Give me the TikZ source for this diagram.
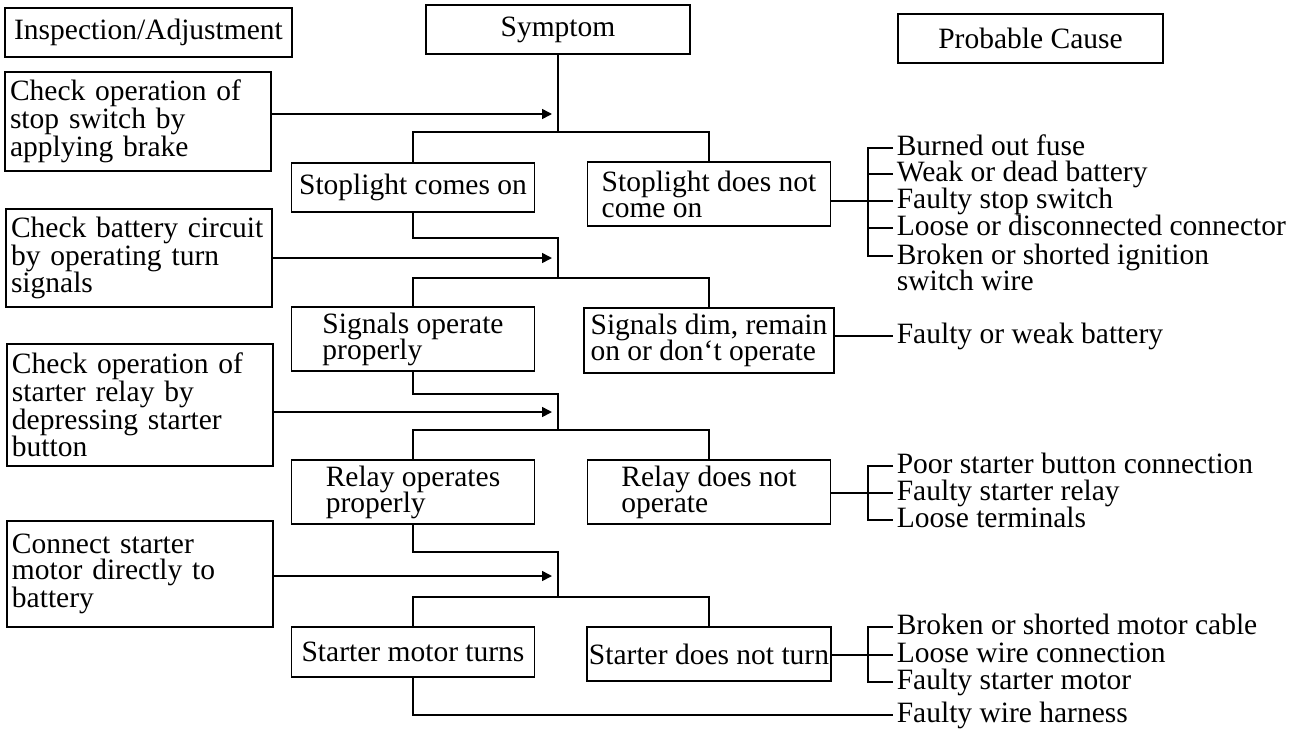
\documentclass[tikz,border=0pt]{standalone}
\usepackage{fontspec}
\setmainfont{Liberation Serif}
\usetikzlibrary{arrows.meta}
\setlength{\lineskiplimit}{-20pt}

\begin{document}
\begin{tikzpicture}[x=1pt,y=-1pt,line width=1.6pt,
    font=\fontsize{29.5}{26}\selectfont]
    \tikzstyle{box}=[draw,inner sep=0pt,align=left]
    \tikzstyle{chk}=[box,inner xsep=5pt,text width=256pt]
    \tikzstyle{sbox}=[box,minimum width=243pt]
    \tikzstyle{cause}=[anchor=base west,inner xsep=3pt,inner ysep=0pt,
        align=left,text height=20pt,text depth=6pt]
    \tikzstyle{arr}=[-{Triangle[length=10pt,width=10pt]}]
    \useasboundingbox (0,0) rectangle (1298,729);
    % Headers
    \node[box,minimum width=287pt,minimum height=49pt] (insp) at (148.5,32.5) {Inspection/Adjustment};
    \node[box,minimum width=264pt,minimum height=49pt] (sym) at (558,29.5) {Symptom};
    \node[box,minimum width=265pt,minimum height=49pt] (prob) at (1030.5,38.5) {Probable Cause};
    % Checks
    \node[chk,minimum height=99pt] (chk1) at (138,121.5) {Check operation of\\stop switch by\\applying brake};
    \node[chk,minimum height=98pt] (chk2) at (139,258) {Check battery circuit\\by operating turn\\signals};
    \node[chk,minimum height=122pt] (chk3) at (140,405) {Check operation of\\starter relay by\\depressing starter\\button};
    \node[chk,minimum height=106pt] (chk4) at (140,574) {Connect starter\\motor directly to\\battery};
    % Symptoms
    \node[sbox,minimum height=49pt] (s1) at (413,187.5) {Stoplight comes on};
    \node[sbox,minimum height=64pt] (s2) at (413,339) {Signals operate\\properly};
    \node[sbox,minimum height=64pt] (s3) at (413,492) {Relay operates\\properly};
    \node[sbox,minimum height=50pt] (s4) at (413,652) {Starter motor turns};
    \node[sbox,minimum height=64pt] (n1) at (709,194) {Stoplight does not\\come on};
    \node[sbox,minimum width=250pt,minimum height=65pt] (n2) at (709,340.5) {Signals dim, remain\\on or don‘t operate};
    \node[sbox,minimum height=64pt] (n3) at (709,492) {Relay does not\\operate};
    \node[sbox,inner xsep=2pt,minimum width=244pt,minimum height=54pt] (n4) at (709,654) {Starter does not turn};
    % Causes
    \node[cause] (c11) at (893,155) {Burned out fuse};
    \node[cause] (c12) at (893,181) {Weak or dead battery};
    \node[cause] (c13) at (893,208) {Faulty stop switch};
    \node[cause] (c14) at (893,235) {Loose or disconnected connector};
    \node[anchor=north west,inner xsep=3pt,inner ysep=0pt,align=left] (c15) at (893,243) {Broken or shorted ignition\\switch wire};
    \node[cause] (c21) at (893,343) {Faulty or weak battery};
    \node[cause] (c31) at (893,473) {Poor starter button connection};
    \node[cause] (c32) at (893,500) {Faulty starter relay};
    \node[cause] (c33) at (893,527) {Loose terminals};
    \node[cause] (c41) at (893,634) {Broken or shorted motor cable};
    \node[cause] (c42) at (893,662) {Loose wire connection};
    \node[cause] (c43) at (893,689) {Faulty starter motor};
    \node[cause] (c51) at (893,722) {Faulty wire harness};
    % Trunk points
    \coordinate (b1) at (868,0);
    \coordinate (c15w) at ([yshift=-13pt]c15.north west);
    \coordinate (j1) at (558,132);
    \coordinate (t2) at (558,238);
    \coordinate (j2) at (558,278);
    \coordinate (t3) at (558,394);
    \coordinate (j3) at (558,430);
    \coordinate (t4) at (558,552);
    \coordinate (j4) at (558,597);
    % Tree lines
    \draw (sym.south) -- (j1);
    \draw (s1.north) |- (j1) -| (n1.north);
    \draw (s1.south) |- (t2) -- (j2);
    \draw (s2.north) |- (j2) -| (n2.north);
    \draw (s2.south) |- (t3) -- (j3);
    \draw (s3.north) |- (j3) -| (n3.north);
    \draw (s3.south) |- (t4) -- (j4);
    \draw (s4.north) |- (j4) -| (n4.north);
    \draw (s4.south) |- (c51.west);
    % Arrows
    \draw[arr] (chk1.east |- 0,114) -- (552,114);
    \draw[arr] (chk2.east |- 0,258) -- (552,258);
    \draw[arr] (chk3.east |- 0,412) -- (552,412);
    \draw[arr] (chk4.east |- 0,576) -- (552,576);
    % Brackets
    \draw (n1.east |- c13.west) -- (c13.west -| b1);
    \draw (c11.west) -| (b1 |- c15w) -- (c15w);
    \foreach \c in {c12,c13,c14} \draw (\c.west -| b1) -- (\c.west);
    \draw (n2.east |- c21.west) -- (c21.west);
    \draw (n3.east |- c32.west) -- (c32.west -| b1);
    \draw (c31.west) -| (b1 |- c33.west) -- (c33.west);
    \draw (c32.west -| b1) -- (c32.west);
    \draw (n4.east |- c42.west) -- (c42.west -| b1);
    \draw (c41.west) -| (b1 |- c43.west) -- (c43.west);
    \draw (c42.west -| b1) -- (c42.west);
\end{tikzpicture}
\end{document}
